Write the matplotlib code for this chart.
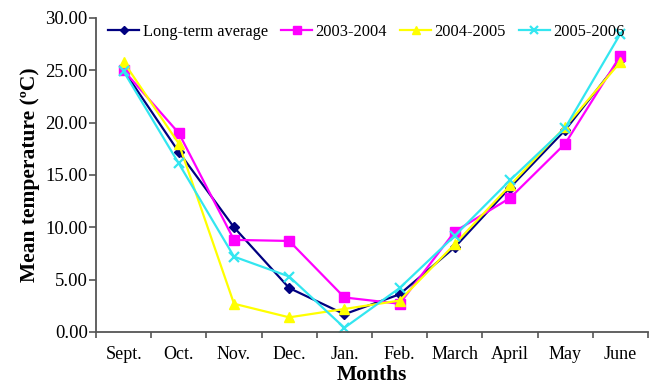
import matplotlib
matplotlib.use("Agg")
import matplotlib.pyplot as plt
import numpy as np

plt.rcParams['font.family'] = ['Liberation Serif', 'DejaVu Serif']

months = ["Sept.", "Oct.", "Nov.", "Dec.", "Jan.", "Feb.", "March", "April", "May", "June"]
long_term = [25.0, 17.2, 10.0, 4.2, 1.7, 3.6, 8.1, 13.8, 19.3, 26.0]
y0304 = [25.0, 19.0, 8.8, 8.7, 3.3, 2.7, 9.6, 12.8, 18.0, 26.4]
y0405 = [25.8, 18.0, 2.7, 1.4, 2.2, 3.0, 8.4, 14.0, 19.6, 25.8]
y0506 = [24.9, 16.1, 7.2, 5.3, 0.4, 4.2, 9.2, 14.5, 19.5, 28.5]

fig = plt.figure(figsize=(6.52, 3.86), dpi=100)
ax = fig.add_axes([96/652, 1-332/386, 552/652, 314/386])

x = np.arange(len(months))
ax.plot(x, long_term, color="#000080", marker="D", markersize=5.5, lw=1.6, label="Long-term average")
ax.plot(x, y0304, color="#FF00FF", marker="s", markersize=7, lw=1.6, label="2003-2004")
ax.plot(x, y0405, color="#FFFF00", marker="^", markersize=7, lw=1.6, label="2004-2005")
ax.plot(x, y0506, color="#33E6F0", marker="x", markersize=7, mew=1.6, lw=1.6, label="2005-2006")

ax.set_xlim(-0.5, len(months) - 0.5)
ax.set_ylim(0, 30)
yt = np.arange(0, 31, 5)
ax.set_yticks(yt)
ax.set_yticklabels([f"{v:.2f}" for v in yt], fontsize=13.5)
ax.set_xticks(x)
ax.set_xticklabels(months, fontsize=13)
ax.set_xticks(np.arange(-0.5, len(months), 1), minor=True)
ax.tick_params(axis="x", which="major", length=0, pad=10)
ax.tick_params(axis="x", which="minor", length=4.5, color="#555555", width=1.2)
ax.tick_params(axis="y", length=5, color="#555555", width=1.2, pad=1)
for s in ["top", "right"]:
    ax.spines[s].set_visible(False)
for s in ["left", "bottom"]:
    ax.spines[s].set_color("#555555")
    ax.spines[s].set_linewidth(1.3)

ax.set_xlabel("Months", fontsize=15.5, fontweight="bold", labelpad=1.5)
ax.set_ylabel("Mean temperature (ºC)", fontsize=15.5, fontweight="bold", labelpad=4)
ax.legend(loc="center", bbox_to_anchor=(0.49, 0.957), ncol=4, frameon=False,
          fontsize=11.8, handlelength=1.9, handletextpad=0.2, columnspacing=0.8,
          markerscale=0.8)

fig.savefig("out.png", dpi=100)
